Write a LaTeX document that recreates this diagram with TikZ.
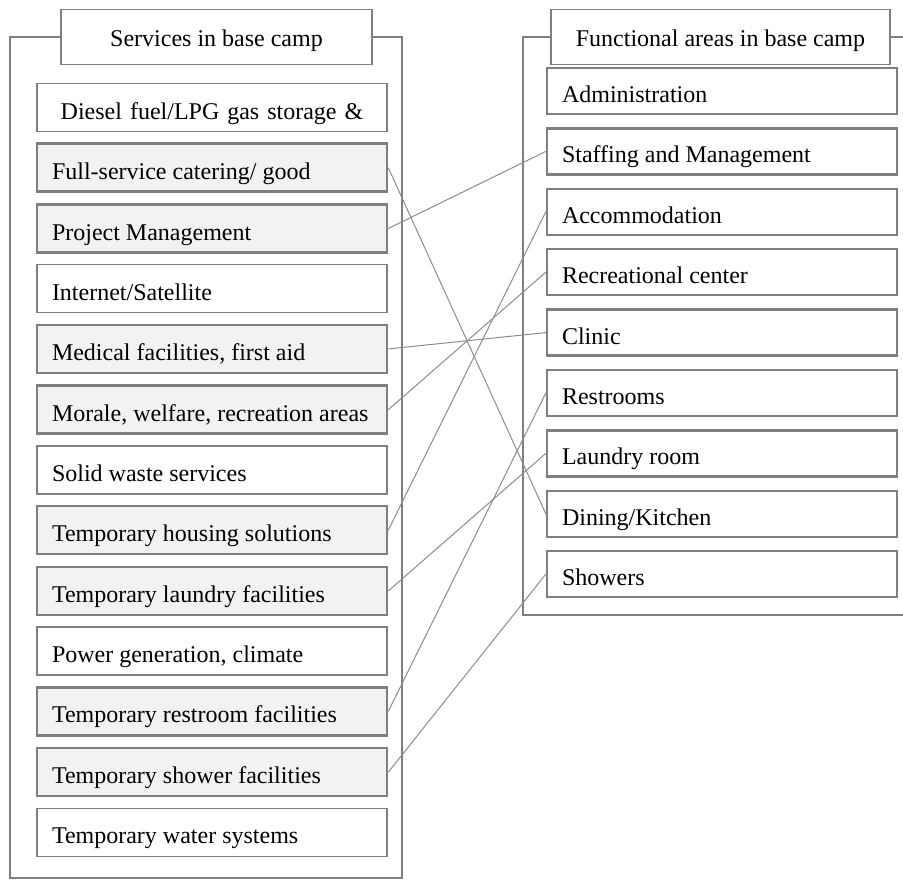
\documentclass[tikz,border=0pt]{standalone}
\usepackage{fontspec}
\setmainfont{Liberation Serif}
\usepackage{xcolor}
\usetikzlibrary{positioning}
\definecolor{edgegray}{HTML}{7F7F7F}
\definecolor{linkgray}{HTML}{8C8C8C}
\definecolor{shade}{HTML}{F2F2F2}

\begin{document}
\begin{tikzpicture}[x=0.5pt, y=-0.5pt, node distance=6pt, font=\fontsize{12}{14}\selectfont]
    \tikzstyle{service} = [rectangle, draw=edgegray, fill=white, line width=0.7pt, minimum height=24pt, text width=160pt, inner xsep=7.5pt, align=flush left, text height=11.5pt, text depth=0pt]
    \tikzstyle{linked} = [service, fill=shade, line width=1.3pt]
    \tikzstyle{area} = [service, line width=1.2pt, minimum height=23pt]
    \tikzstyle{header} = [rectangle, draw=edgegray, fill=white, line width=0.85pt, minimum height=27.5pt, align=center, text height=9.5pt, text depth=0pt]
    \tikzstyle{frame} = [draw=edgegray, line width=1pt]
    \tikzstyle{link} = [draw=linkgray, line width=0.5pt]

    \useasboundingbox (0,0) rectangle (903,880);

    % left column
    \begin{scope}[node distance=5.1pt]
    \node [header, minimum width=155.5pt] (lhead) at (216.5,37) {Services in base camp};
    \node [service, align=center] (diesel) at (212,107.5) {Diesel fuel/LPG gas storage \&};
    \node [linked, below=of diesel] (catering) {Full-service catering/ good};
    \node [linked, below=of catering] (project) {Project Management};
    \node [service, below=of project] (internet) {Internet/Satellite};
    \node [linked, below=of internet] (medical) {Medical facilities, first aid};
    \node [linked, below=of medical] (morale) {Morale, welfare, recreation areas};
    \node [service, below=of morale] (waste) {Solid waste services};
    \node [linked, below=of waste] (housing) {Temporary housing solutions};
    \node [linked, below=of housing] (laundry) {Temporary laundry facilities};
    \node [service, below=of laundry] (power) {Power generation, climate};
    \node [linked, below=of power] (restroom) {Temporary restroom facilities};
    \node [linked, below=of restroom] (shower) {Temporary shower facilities};
    \node [service, below=of shower] (water) {Temporary water systems};
    \end{scope}

    \path [frame] (lhead.west) -| (10,878) -| (402,37) -- (lhead.east);

    % right column
    \node [header, minimum width=169.5pt] (rhead) at (720.5,37) {Functional areas in base camp};
    \node [area] (admin) at (722,91) {Administration};
    \node [area, below=of admin] (staffing) {Staffing and Management};
    \node [area, below=of staffing] (accommodation) {Accommodation};
    \node [area, below=of accommodation] (recreation) {Recreational center};
    \node [area, below=of recreation] (clinic) {Clinic};
    \node [area, below=of clinic] (restrooms) {Restrooms};
    \node [area, below=of restrooms] (laundryroom) {Laundry room};
    \node [area, below=of laundryroom] (dining) {Dining/Kitchen};
    \node [area, below=of dining] (showers) {Showers};

    \path [frame] (rhead.west) -| (523,615) -- (915,615);
    \path [frame] (rhead.east) -- (915,37);

    % links
    \path [link] (catering.east) -- (dining.west);
    \path [link] (project.east) -- (staffing.west);
    \path [link] (medical.east) -- (clinic.west);
    \path [link] (morale.east) -- (recreation.west);
    \path [link] (housing.east) -- (accommodation.west);
    \path [link] (laundry.east) -- (laundryroom.west);
    \path [link] (restroom.east) -- (restrooms.west);
    \path [link] (shower.east) -- (showers.west);
\end{tikzpicture}
\end{document}
